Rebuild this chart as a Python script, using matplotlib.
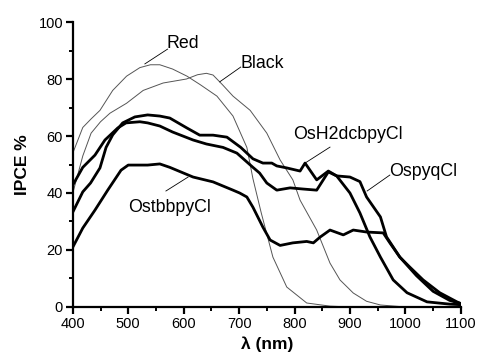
import matplotlib
matplotlib.use("Agg")
import matplotlib.pyplot as plt
from matplotlib.ticker import MultipleLocator

plt.rcParams['font.family'] = ['Liberation Sans', 'DejaVu Sans']

# -------- Data --------
red_x = [400, 418, 433, 449, 472, 497, 521, 540, 557, 580, 606, 630, 660, 689, 714, 725, 740, 761, 786, 822, 864, 900]
red_y = [54, 63, 66, 69, 76, 81, 84, 85, 85, 83.5, 81, 78, 74, 67, 56, 45, 33, 17.5, 7, 1.4, 0.3, 0]

black_x = [400, 407, 418, 433, 450, 467, 497, 527, 563, 605, 625, 641, 653, 670, 689, 720, 750, 774, 797, 810, 840, 864, 882, 906, 930, 955, 1000]
black_y = [40, 45, 53, 61, 65, 68, 71.5, 76, 78.6, 80, 81.5, 82, 81.4, 78, 74, 69, 61, 51.6, 44.6, 37.5, 27, 15.4, 9.5, 4.9, 2, 0.7, 0]

osh2_x = [400, 418, 432, 449, 460, 472, 490, 512, 535, 557, 575, 606, 629, 653, 678, 703, 725, 743, 759, 768, 786, 810, 819, 840, 861, 876, 900, 918, 936, 955, 978, 1003, 1039, 1080, 1100]
osh2_y = [33.3, 40.4, 43.5, 48.8, 56, 60.4, 64.6, 66.7, 67.4, 67, 66.3, 62.8, 60.3, 60.3, 59.6, 56, 52, 50.5, 50.5, 49.5, 48.8, 47.7, 50.5, 44.6, 47.7, 46, 40, 33, 24.6, 17.5, 9.5, 5, 1.8, 1, 0.8]

ospyq_x = [400, 418, 440, 458, 481, 496, 521, 535, 557, 580, 617, 641, 671, 696, 725, 737, 750, 768, 792, 815, 840, 861, 876, 900, 918, 930, 955, 966, 990, 1020, 1050, 1080, 1100]
ospyq_y = [42.8, 49, 53.3, 58.6, 62.8, 64.6, 65, 64.6, 63.5, 61.4, 58.6, 57.2, 56, 54, 49, 47, 43.5, 41, 41.8, 41.4, 41, 47.4, 46, 45.6, 44, 38.6, 31.6, 24.6, 17.5, 11, 5.5, 2.3, 1.2]

ostbb_x = [400, 418, 440, 463, 487, 500, 535, 557, 575, 617, 653, 689, 701, 714, 725, 743, 756, 774, 797, 822, 834, 846, 864, 888, 906, 930, 960, 972, 990, 1008, 1032, 1062, 1093, 1100]
ostbb_y = [21, 27.7, 34, 41, 48, 49.8, 49.8, 50.2, 49, 45.6, 43.9, 41, 40, 38.6, 35, 28, 23.5, 21.6, 22.5, 23, 22.5, 24.5, 27, 25.3, 27, 26.3, 26, 22.5, 17.5, 14, 9.5, 5, 1.8, 1.2]

# label text: (name, text x, text y, leader start, leader end)
labels = [
    ("Red", 598, 92.6, (530, 85.3), (571, 90.5)),
    ("Black", 741, 85.6, (665, 79), (703, 84.2)),
    ("OsH2dcbpyCl", 896, 60.4, (819, 50.5), (864, 56.1)),
    ("OspyqCl", 1032, 47.4, (931, 40.7), (972, 46.3)),
    ("OstbbpyCl", 575, 35, (568, 40.7), (608, 45.6)),
]

# -------- Plot --------
fig = plt.figure(figsize=(4.79, 3.58), dpi=100)
ax = fig.add_axes([0.152, 0.1425, 0.810, 0.796])

thin = dict(color="#555555", lw=0.7)
thick = dict(color="black", lw=2.0, solid_joinstyle="round")
ax.plot(red_x, red_y, **thin)
ax.plot(black_x, black_y, **thin)
ax.plot(osh2_x, osh2_y, **thick)
ax.plot(ospyq_x, ospyq_y, **thick)
ax.plot(ostbb_x, ostbb_y, **thick)

for text, tx, ty, p0, p1 in labels:
    ax.text(tx, ty, text, ha="center", va="center", fontsize=12.8)
    ax.plot([p0[0], p1[0]], [p0[1], p1[1]], color="black", lw=0.6)

ax.set_xlim(400, 1100)
ax.set_ylim(0, 100)
ax.xaxis.set_major_locator(MultipleLocator(100))
ax.xaxis.set_minor_locator(MultipleLocator(50))
ax.yaxis.set_major_locator(MultipleLocator(20))
ax.yaxis.set_minor_locator(MultipleLocator(10))

for side in ["top", "right"]:
    ax.spines[side].set_visible(False)
for side in ["left", "bottom"]:
    ax.spines[side].set_linewidth(1.6)
ax.tick_params(which="major", direction="out", length=5, width=1.6, labelsize=10.5, pad=2)
ax.tick_params(which="minor", direction="out", length=3, width=1.4)

ax.set_xlabel("λ (nm)", fontsize=12.5, fontweight="bold", labelpad=4)
ax.set_ylabel("IPCE %", fontsize=12.5, fontweight="bold", labelpad=6)

fig.savefig("out.png", dpi=100)
